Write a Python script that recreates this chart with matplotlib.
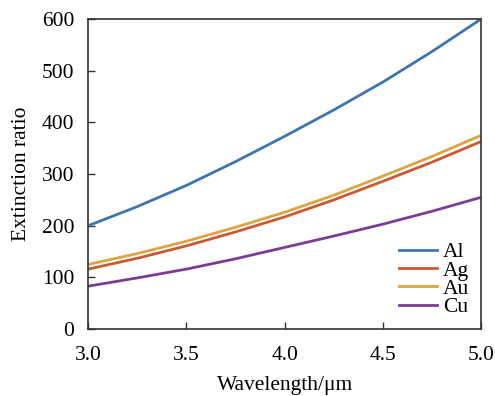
import matplotlib
matplotlib.use("Agg")
import matplotlib.pyplot as plt

wavelength = [3.0, 3.25, 3.5, 3.75, 4.0, 4.25, 4.5, 4.75, 5.0]
al = [200, 237, 278, 324, 373, 424, 478, 537, 600]
ag = [116, 137, 161, 188, 217, 250, 286, 323, 363]
au = [125, 146, 170, 197, 226, 259, 296, 334, 375]
cu = [83, 99, 116, 136, 158, 180, 203, 228, 255]
labels = ["Al", "Ag", "Au", "Cu"]
colors = ["#3E75AD", "#C95A36", "#DDA441", "#7B3D94"]

plt.rcParams['font.family'] = ['Liberation Serif', 'DejaVu Serif']

fig = plt.figure(figsize=(4.95, 3.96), dpi=100)
ax = fig.add_axes([0.178, 0.169, 0.794, 0.783])
for ys, lab, c in zip([al, ag, au, cu], labels, colors):
    ax.plot(wavelength, ys, color=c, lw=2, label=lab)

ax.set_xlim(3.0, 5.0)
ax.set_ylim(0, 600)
ax.set_xticks([3.0, 3.5, 4.0, 4.5, 5.0])
ax.set_yticks(range(0, 601, 100))
ax.tick_params(axis='both', direction='in', labelsize=15.5, length=5, width=1,
               color='#333333')
ax.tick_params(axis='x', pad=12)
ax.tick_params(axis='y', pad=10)
for s in ax.spines.values():
    s.set_color('#333333')
    s.set_linewidth(1.2)
ax.set_xlabel("Wavelength/\u03bcm", fontsize=15.5, labelpad=8)
ax.set_ylabel("Extinction ratio", fontsize=15.5, labelpad=8)
ax.legend(loc='lower right', frameon=False, fontsize=15.5, handlelength=1.75,
          handletextpad=0.3, labelspacing=-0.08, borderaxespad=0.15)
fig.savefig("out.png", dpi=100)
